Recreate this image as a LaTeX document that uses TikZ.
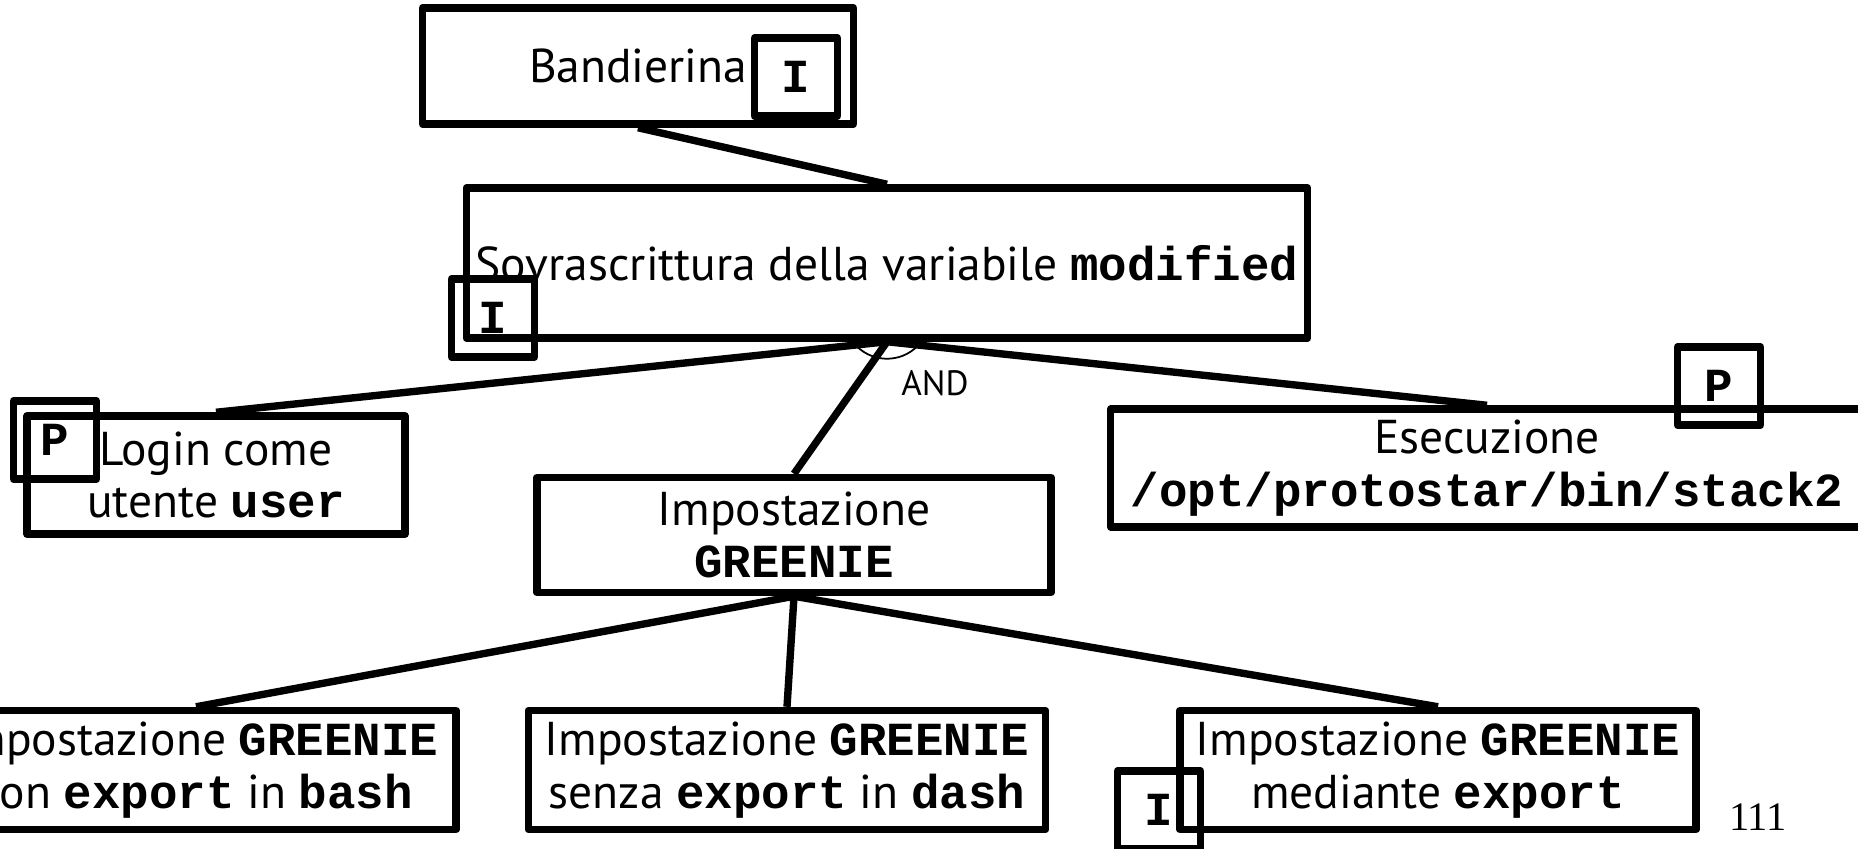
\documentclass[tikz,border=0pt]{standalone}
\usepackage{fontspec}
\setmainfont{PT Sans}
\setmonofont{Liberation Mono}
\newfontfamily\pagefont{Liberation Serif}
\usetikzlibrary{calc}
\newcommand{\cod}[1]{\texttt{\textbf{#1}}}

\begin{document}
\begin{tikzpicture}[x=0.01cm,y=-0.01cm,line width=2.1pt,line join=round,
    blk/.style={draw,rectangle,align=center,inner sep=0pt,font=\fontsize{13.5}{15}\selectfont},
    tag/.style={draw,rectangle,minimum width=0.83cm,minimum height=0.78cm,inner sep=0pt,
        font=\fontsize{13.5}{15}\selectfont\ttfamily\bfseries}]
        \useasboundingbox (0,0) rectangle (1858,848);
        % tree nodes
        \node[blk,minimum width=4.31cm,minimum height=1.16cm] (flag) at (638,66) {Bandierina};
        \node[blk,minimum width=8.41cm,minimum height=1.50cm] (over) at (887,263) {Sovrascrittura della variabile \cod{modified}};
        \node[blk,minimum width=3.78cm,minimum height=1.18cm] (login) at (216,475) {Login come\\utente \cod{user}};
        \node[blk,minimum width=5.14cm,minimum height=1.15cm] (green) at (794,535) {Impostazione\\\cod{GREENIE}};
        \node[blk,minimum width=7.52cm,minimum height=1.18cm] (exec) at (1487,468) {Esecuzione\\\cod{/opt/protostar/bin/stack2}};
        \node[blk,minimum width=5.20cm,minimum height=1.19cm] (bash) at (196,770) {Impostazione \cod{GREENIE}\\con \cod{export} in \cod{bash}};
        \node[blk,minimum width=5.17cm,minimum height=1.19cm] (dash) at (787,770) {Impostazione \cod{GREENIE}\\senza \cod{export} in \cod{dash}};
        \node[blk,minimum width=5.16cm,minimum height=1.19cm] (expo) at (1438,770) {Impostazione \cod{GREENIE}\\mediante \cod{export}};
        % tags
        \node[tag] (tflag) at (796,77) {I};
        \node[tag] (tover) at (493,318) {I};
        \node[tag] (tlogin) at (55,440) {P};
        \node[tag] (texec) at (1719,386) {P};
        \node[tag] (texpo) at (1159,810) {I};
        % edges
        \draw (flag.south) -- (over.north);
        \draw (over.south) -- (login.north);
        \draw (over.south) -- (green.north);
        \draw (over.south) -- (exec.north);
        \draw (green.south) -- (bash.north);
        \draw (green.south) -- (dash.north);
        \draw (green.south) -- (expo.north);
        \draw[line width=0.5pt] ($(over.south)+(0,-26)$) ++(135:43) arc (135:45:43);
        \node[font=\fontsize{10}{12}\selectfont] (and) at (935,383) {AND};
        \node[font=\fontsize{11.5}{13}\selectfont\pagefont] (page) at (1758,817) {111};
\end{tikzpicture}
\end{document}
